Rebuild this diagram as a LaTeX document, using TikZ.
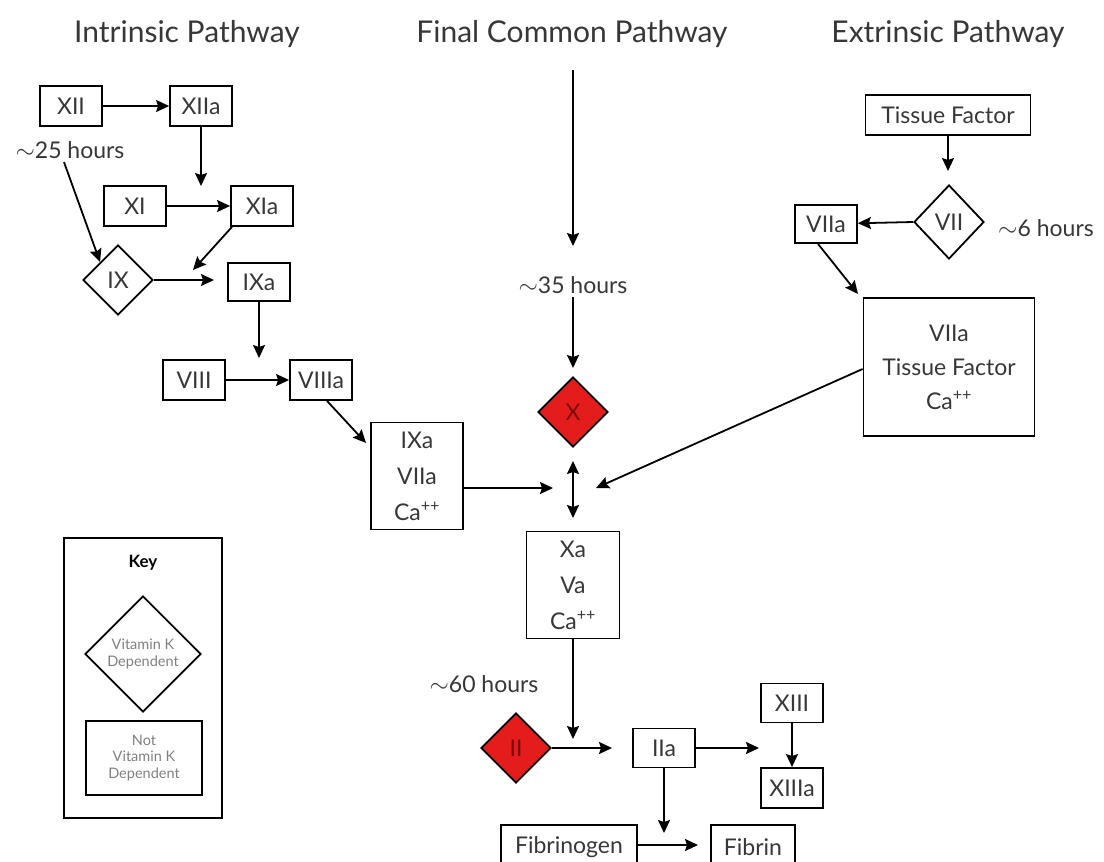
\documentclass[tikz,border=0pt]{standalone}
\usepackage{fontspec}
\setmainfont{Lato}
\usetikzlibrary{shapes.geometric,arrows.meta}
\definecolor{vitk}{RGB}{228,28,28}
\definecolor{vitktext}{RGB}{120,12,12}
\definecolor{ink}{RGB}{55,55,55}

\begin{document}
\begin{tikzpicture}[x=1pt,y=-1pt,
  every node/.style={text=ink,font=\fontsize{23}{36}\selectfont},
  fbox/.style={draw=black,line width=1.8,minimum width=62,minimum height=40,inner xsep=6},
  bigbox/.style={draw=black,line width=1.8,align=center},
  kdiam/.style={draw=black,diamond,line width=1.8,minimum width=70,minimum height=70,inner sep=0},
  rdiam/.style={kdiam,fill=vitk,text=vitktext},
  title/.style={font=\fontsize{30}{34}\selectfont},
  keytext/.style={font=\fontsize{14.5}{16.5}\selectfont,text=gray,align=center},
  arr/.style={line width=1.8,-{Stealth[length=13,width=12,inset=2]}}]

\useasboundingbox (0,0) rectangle (1104,862);

\node[title] (tint) at (187,34) {Intrinsic Pathway};
\node[title] (tfin) at (572,34) {Final Common Pathway};
\node[title] (text) at (948,34) {Extrinsic Pathway};

\node[fbox] (xii) at (71,106) {XII};
\node[fbox] (xiia) at (201,106) {XIIa};
\node (h25) at (70,150) {$\sim$25 hours};
\node[fbox] (xi) at (135,206) {XI};
\node[fbox] (xia) at (262,206) {XIa};
\node[kdiam] (ix) at (118,280) {IX};
\node[fbox,minimum height=38] (ixa) at (259,282) {IXa};
\node[fbox] (viii) at (194,380) {VIII};
\node[fbox] (viiia) at (321,380) {VIIIa};
\node[bigbox,minimum width=92,minimum height=107] (tenase) at (417,476) {IXa\\VIIa\\Ca\textsuperscript{++}};

\node (h35) at (573,285) {$\sim$35 hours};
\node[rdiam] (x) at (573,412) {X};
\node[bigbox,minimum width=93,minimum height=107] (prothr) at (573,585) {Xa\\Va\\Ca\textsuperscript{++}};
\node (h60) at (484,684) {$\sim$60 hours};
\node[rdiam] (ii) at (516,748) {II};
\node[fbox,minimum height=39] (iia) at (664,748) {IIa};
\node[fbox,minimum height=39] (xiii) at (792,703) {XIII};
\node[fbox] (xiiia) at (792,788) {XIIIa};
\node[fbox,minimum width=136,minimum height=44] (fgen) at (569,847) {Fibrinogen};
\node[fbox,minimum width=84,minimum height=44] (fib) at (753,847) {Fibrin};

\node[fbox,minimum width=165] (tf) at (948,115) {Tissue Factor};
\node[kdiam,minimum height=74] (vii) at (949,222) {VII};
\node[fbox,minimum height=38] (viia) at (826,224) {VIIa};
\node (h6) at (1046,228) {$\sim$6 hours};
\node[bigbox,minimum width=171,minimum height=138] (tfbox) at (949,367) {VIIa\\[-2pt]Tissue Factor\\[-2pt]Ca\textsuperscript{++}};

\node[draw=black,line width=1.8,minimum width=158,minimum height=280] (key) at (143,678) {};
\node[font=\fontsize{17}{20}\selectfont\bfseries,text=black] (keyt) at (143,563) {Key};
\node[kdiam,minimum width=116,minimum height=116,keytext] (keyd) at (143,654) {Vitamin K\\Dependent};
\node[fbox,minimum width=116,minimum height=74,keytext] (keyb) at (144,758) {Not\\Vitamin K\\Dependent};

\coordinate (c1) at (201,186);
\coordinate (c2) at (193,270);
\coordinate (c3) at (214,280);
\coordinate (c4) at (259,358);
\coordinate (c5) at (366,443);
\coordinate (top) at (573,70);
\coordinate (c6) at (573,246);
\coordinate (c7) at (573,368);
\coordinate (up) at (573,461);
\coordinate (dn) at (573,518);
\coordinate (c8) at (553,488);
\coordinate (c9) at (596,488);
\coordinate (c10) at (573,739);
\coordinate (c11) at (612,748);
\coordinate (c12) at (759,748);
\coordinate (c13) at (664,833);
\coordinate (c14) at (698,845);
\coordinate (c15) at (948,171);
\coordinate (c16) at (858,294);

\draw[arr] (xii) -- (xiia);
\draw[arr] (xiia) -- (c1);
\draw[arr] ([xshift=-6]h25.south) -- (ix.north west);
\draw[arr] (xi) -- (xia);
\draw[arr] ([xshift=-30]xia.south) -- (c2);
\draw[arr] (ix.east) -- (c3);
\draw[arr] (ixa) -- (c4);
\draw[arr] (viii) -- (viiia);
\draw[arr] ([xshift=6]viiia.south) -- (c5);
\draw[arr] (tenase.east |- c8) -- (c8);
\draw[arr] ([yshift=-2]tfbox.west) -- (c9);
\draw[arr] (top) -- (c6);
\draw[arr] (h35) -- (c7);
\draw[line width=1.8,{Stealth[length=13,width=12,inset=2]}-{Stealth[length=13,width=12,inset=2]}] (up) -- (dn);
\draw[arr] (prothr) -- (c10);
\draw[arr] (ii.east) -- (c11);
\draw[arr] (iia) -- (c12);
\draw[arr] (xiii) -- (xiiia);
\draw[arr] (iia) -- (c13);
\draw[arr] (fgen.east |- c14) -- (c14);
\draw[arr] (tf) -- (c15);
\draw[arr] (vii.west) -- (viia);
\draw[arr] ([xshift=-8]viia.south) -- (c16);

\end{tikzpicture}
\end{document}
